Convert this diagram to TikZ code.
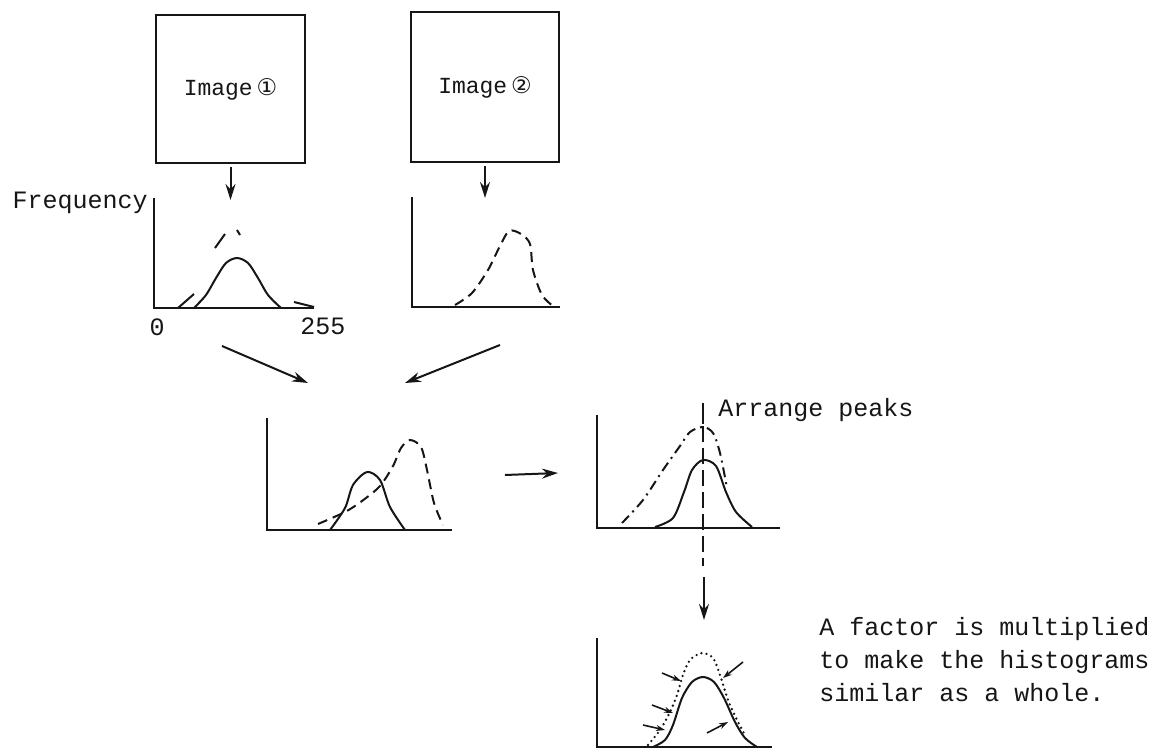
\documentclass[tikz,border=0pt]{standalone}
\usepackage{fontspec}
\setmainfont{Liberation Mono}
\newfontfamily\symfont{DejaVu Sans}
\usepackage{tikz}
\usetikzlibrary{arrows.meta,positioning}
\definecolor{ink}{HTML}{161616}
\tikzset{
  imgbox/.style={draw=ink,line width=1.1pt,inner sep=0pt,font=\fontsize{11.5}{13}\selectfont,text=ink},
  axis/.style={draw=ink,line width=1.4pt},
  solidcurve/.style={draw=ink,line width=1pt},
  dashcurve/.style={draw=ink,line width=1pt,dash pattern=on 5pt off 3pt},
  dashdotcurve/.style={draw=ink,line width=1pt,dash pattern=on 5pt off 2.5pt on 1pt off 2.5pt},
  dotcurve/.style={draw=ink,line width=1.3pt,line cap=round,dash pattern=on 0pt off 2.6pt},
  arr/.style={-{Stealth[length=8pt,width=5pt]},line width=1pt,draw=ink},
  tinyarr/.style={-{Stealth[length=4.5pt,width=3pt]},line width=.8pt,draw=ink},
  lbl/.style={font=\fontsize{12.5}{16.5}\selectfont,text=ink,inner sep=0pt}
}
\begin{document}
\begin{tikzpicture}[x=0.5pt,y=-0.5pt]
\useasboundingbox (0,0) rectangle (1157,749);
% the two images
\node[imgbox,minimum width=74.5pt,minimum height=74pt] (img1) at (230.5,89) {Image\,{\symfont ①}};
\node[imgbox,minimum width=74pt,minimum height=75pt] (img2) at (485,87) {Image\,{\symfont ②}};
\coordinate (h1in) at (230.5,200);
\coordinate (h2in) at (485,198);
\draw[arr,shorten <=1.5pt] (img1) -- (h1in);
\draw[arr,shorten <=1.5pt] (img2) -- (h2in);
% histogram of image 1
\node[lbl,anchor=east] (freq) at (148,203) {Frequency};
\draw[axis] (154,198) -- (154,308) -- (314,308);
\node[lbl] (zero) at (157,327) {0};
\node[lbl,anchor=west] (top) at (300,326) {255};
\draw[solidcurve] plot[smooth] coordinates {(194,308) (206,295) (216,278) (226,263) (237,258) (248,263) (258,278) (268,295) (281,308)};
\draw[solidcurve] (178,308) -- (194,294);
\draw[solidcurve] (215,248) -- (225,234);
\draw[solidcurve] (237,230) -- (240,235);
\draw[solidcurve] (294,302) .. controls (302,304) .. (314,307);
% histogram of image 2
\draw[axis] (412,197) -- (412,307) -- (560,307);
\draw[dashcurve] plot[smooth] coordinates {(455,305) (472,293) (488,270) (499,248) (509,231) (521,234) (530,244) (533,270) (542,295) (553,306)};
% both histograms together
\coordinate (m1s) at (222,346);
\coordinate (m1e) at (308,383);
\coordinate (m2s) at (500,345);
\coordinate (m2e) at (405,383);
\draw[arr] (m1s) -- (m1e);
\draw[arr] (m2s) -- (m2e);
\draw[axis] (267,418) -- (267,530) -- (452,530);
\draw[solidcurve] plot[smooth] coordinates {(330,530) (345,508) (353,485) (367,472) (380,480) (390,507) (405,530)};
\draw[dashcurve] plot[smooth] coordinates {(318,524) (345,512) (362,501) (380,486) (393,466) (401,448) (410,440) (421,447) (427,470) (434,503) (443,525)};
\coordinate (s1) at (505,475);
\coordinate (s2) at (558,473);
\draw[arr] (s1) -- (s2);
% peaks arranged
\draw[axis] (597,415) -- (597,528) -- (780,528);
\draw[solidcurve] plot[smooth] coordinates {(655,527) (673,518) (684,492) (692,470) (703,460) (716,466) (726,492) (736,512) (752,527)};
\draw[dashdotcurve] plot[smooth] coordinates {(622,523) (643,500) (663,470) (680,446) (690,432) (703,427) (713,433) (720,453) (727,488)};
\node[lbl,anchor=west] (arrpk) at (718,410) {Arrange peaks};
\coordinate (pktop) at (703,403);
\coordinate (pkbot) at (703,566);
\draw[draw=ink,line width=1pt] (pktop) -- (703,424);
\draw[draw=ink,line width=1pt,dash pattern=on 8pt off 3pt] (703,426) -- (pkbot);
\coordinate (dn1) at (704,577);
\coordinate (dn2) at (704,620);
\draw[arr] (dn1) -- (dn2);
% scaled by a factor
\draw[axis] (597,638) -- (597,747) -- (772,747);
\draw[solidcurve] plot[smooth] coordinates {(653,747) (665,740) (673,725) (682,698) (692,682) (703,677) (714,682) (724,698) (735,722) (745,738) (757,747)};
\draw[dotcurve] plot[smooth] coordinates {(648,745) (660,730) (670,712) (677,695) (683,675) (690,660) (702,653) (713,658) (720,675) (728,700) (737,720) (745,735)};
\draw[tinyarr] (662,673) -- (681,681);
\draw[tinyarr] (652,705) -- (673,713);
\draw[tinyarr] (643,725) -- (665,730);
\draw[tinyarr] (743,662) -- (723,678);
\draw[tinyarr] (707,733) -- (728,722);
\node[lbl,anchor=west,align=left] (note) at (819,660) {A factor is multiplied\\to make the histograms\\similar as a whole.};
\end{tikzpicture}
\end{document}
